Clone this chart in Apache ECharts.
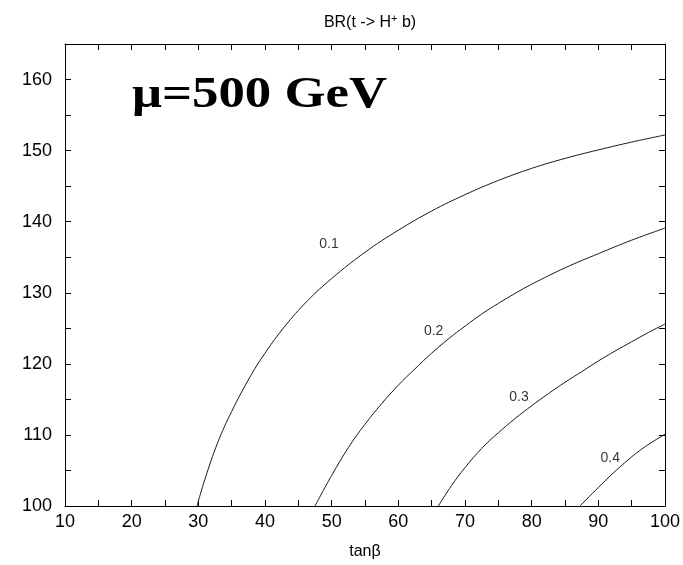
<!DOCTYPE html>
<html>
<head>
<meta charset="utf-8">
<script src="https://cdn.jsdelivr.net/npm/echarts@6/dist/echarts.min.js"></script>
<style>
  html, body { margin: 0; padding: 0; background: #fff; }
  #chart { width: 683px; height: 565px; }
</style>
</head>
<body>
<div id="chart"></div>
<script>
// Contour lines of BR(t -> H+ b) in the (tanβ, m_H+) plane, μ = 500 GeV.
// Each contour is a list of [tanβ, mass] points.
const levels = ['0.1', '0.2', '0.3', '0.4'];

const br01 = [
  [29.8, 100], [31, 103.8], [32.9, 108.9], [35, 113.3], [37.9, 118.4],
  [40, 121.5], [42.9, 125.2], [46.4, 128.9], [50, 132.0], [55, 135.7],
  [60, 138.8], [65, 141.5], [70, 143.8], [75, 145.8], [80, 147.5],
  [85, 148.9], [90, 150.1], [95, 151.2], [100, 152.2]
];
const br02 = [
  [47.5, 100], [50, 104.3], [52.5, 108.2], [55, 111.5], [57.5, 114.4],
  [60, 117.0], [62.5, 119.3], [65, 121.5], [67.5, 123.5], [70, 125.3],
  [72.5, 127.0], [75, 128.5], [77.5, 129.9], [80, 131.2], [85, 133.5],
  [90, 135.5], [95, 137.4], [100, 139.1]
];
const br03 = [
  [66, 100], [68, 102.9], [70, 105.4], [72.5, 108.1], [75, 110.3],
  [77.5, 112.3], [80, 114.1], [82.5, 115.8], [85, 117.4], [87.5, 118.9],
  [90, 120.4], [92.5, 121.8], [95, 123.1], [97.5, 124.4], [100, 125.6]
];
const br04 = [
  [87.25, 100], [90, 102.6], [93.25, 105.5], [96.5, 108.0], [100, 110.1]
];

// Anchor points for the contour level captions.
const levelLabelAt = [
  [49.6, 136.8], [65.3, 124.6], [78.1, 115.3], [91.8, 106.7]
];

const xTicks = { min: 10, max: 100, interval: 10 };
const yTicks = { min: 100, max: 165, interval: 10 };

const curves = [br01, br02, br03, br04];

const chart = echarts.init(document.getElementById('chart'), null, { renderer: 'canvas' });

const sansFont = 'Liberation Sans, Arial, Helvetica, sans-serif';
const tickLen = 6;

function baseX(pos, showLabels) {
  return {
    type: 'value', position: pos, min: xTicks.min, max: xTicks.max, interval: xTicks.interval,
    axisLine: { show: true, onZero: false, lineStyle: { color: '#000', width: 1 } },
    axisTick: { show: true, inside: true, length: tickLen, lineStyle: { color: '#000' } },
    minorTick: { show: true, splitNumber: 2, length: tickLen, lineStyle: { color: '#000' } },
    splitLine: { show: false },
    axisLabel: { show: showLabels, color: '#000', fontSize: 18, fontFamily: sansFont, margin: 7 }
  };
}
function baseY(pos, showLabels) {
  return {
    type: 'value', position: pos, min: yTicks.min, max: yTicks.max, interval: yTicks.interval,
    axisLine: { show: true, onZero: false, lineStyle: { color: '#000', width: 1 } },
    axisTick: { show: true, inside: true, length: tickLen, lineStyle: { color: '#000' } },
    minorTick: { show: true, splitNumber: 2, length: tickLen, lineStyle: { color: '#000' } },
    splitLine: { show: false },
    axisLabel: {
      show: showLabels, color: '#000', fontSize: 18, fontFamily: sansFont, margin: 13,
      showMaxLabel: false,
      formatter: v => (v % 10 === 0 ? String(v) : '')
    }
  };
}

const xMain = baseX('bottom', true);
xMain.name = 'tanβ';
xMain.nameLocation = 'middle';
xMain.nameGap = 38;
xMain.nameTextStyle = { color: '#000', fontSize: 16, fontFamily: sansFont };

const series = curves.map((pts, i) => ({
  type: 'line',
  name: levels[i],
  data: pts,
  smooth: 0.4,
  showSymbol: false,
  symbol: 'none',
  lineStyle: { color: '#1a1a1a', width: 1 },
  xAxisIndex: 0, yAxisIndex: 0,
  silent: true,
  z: 3
}));

series.push({
  type: 'scatter',
  data: levelLabelAt.map((p, i) => ({ value: p, name: levels[i] })),
  symbolSize: 0,
  xAxisIndex: 0, yAxisIndex: 0,
  label: {
    show: true, position: 'inside',
    formatter: p => p.name,
    color: '#000', fontSize: 14, fontFamily: sansFont
  },
  silent: true,
  z: 4
});

chart.setOption({
  animation: false,
  backgroundColor: '#fff',
  title: {
    text: '{a|BR(t -> H}{s|+}{a| b)}',
    left: 365, top: 8, textAlign: 'center',
    textStyle: {
      fontWeight: 'normal',
      rich: {
        a: { fontSize: 16, fontWeight: 'normal', fontFamily: sansFont, color: '#000' },
        s: { fontSize: 11, fontWeight: 'normal', fontFamily: sansFont, color: '#000',
             verticalAlign: 'top', padding: [0, 0, 8, 0] }
      }
    }
  },
  grid: { left: 65, right: 18, top: 44, bottom: 57, containLabel: false },
  xAxis: [xMain, baseX('top', false)],
  yAxis: [baseY('left', true), baseY('right', false)],
  graphic: [{
    type: 'text',
    x: 132, y: 74,
    scaleX: 1.2,
    style: {
      text: 'μ=500 GeV',
      font: 'bold 44px "Liberation Serif", "Times New Roman", serif',
      fill: '#000'
    }
  }],
  series: series
});
</script>
</body>
</html>
